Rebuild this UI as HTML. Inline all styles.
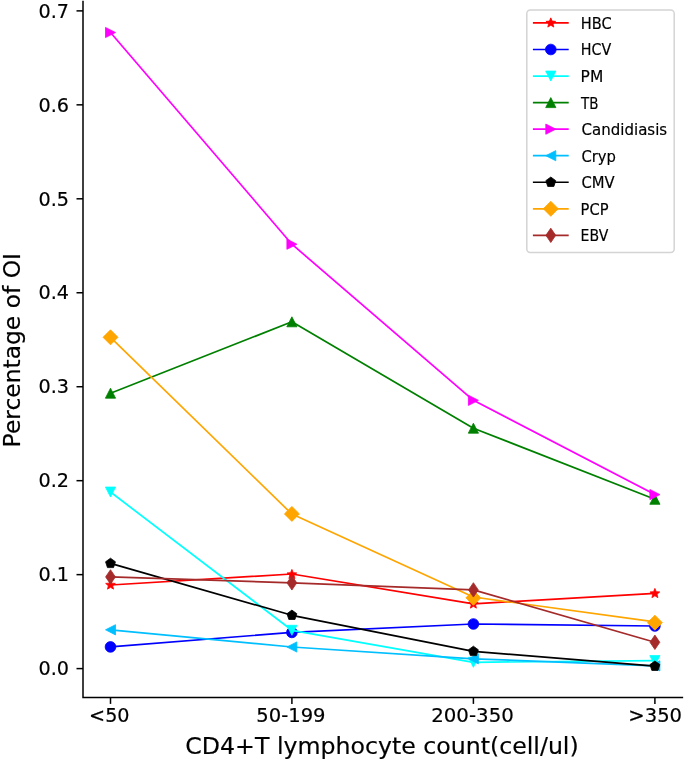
<!DOCTYPE html>
<html lang="en"><head><meta charset="utf-8"><title>Percentage of OI by CD4+T lymphocyte count</title>
<style>html,body{margin:0;padding:0;background:#fff}svg{display:block}</style></head>
<body>
<svg width="685" height="760" viewBox="0 0 685 760" font-family="'DejaVu Sans', 'Liberation Sans', sans-serif" fill="#000">
<rect width="685" height="760" fill="#fff"/>
<g><polyline points="110.5,585 291.9,574 473.4,603.8 654.9,593.3" fill="none" stroke="#ff0000" stroke-width="1.7" stroke-linejoin="round"/>
<polygon points="110.5,579.9 111.85,583.14 115.35,583.42 112.68,585.71 113.5,589.13 110.5,587.29 107.5,589.13 108.32,585.71 105.65,583.42 109.15,583.14" fill="#ff0000" stroke="#ff0000" stroke-width="0.8" stroke-linejoin="round"/>
<polygon points="291.9,569.4 293.25,572.64 296.75,572.92 294.08,575.21 294.9,578.63 291.9,576.79 288.9,578.63 289.72,575.21 287.05,572.92 290.55,572.64" fill="#ff0000" stroke="#ff0000" stroke-width="0.8" stroke-linejoin="round"/>
<polygon points="473.4,598.9 474.75,602.14 478.25,602.42 475.58,604.71 476.4,608.13 473.4,606.29 470.4,608.13 471.22,604.71 468.55,602.42 472.05,602.14" fill="#ff0000" stroke="#ff0000" stroke-width="0.8" stroke-linejoin="round"/>
<polygon points="654.9,588.4 656.25,591.64 659.75,591.92 657.08,594.21 657.9,597.63 654.9,595.79 651.9,597.63 652.72,594.21 650.05,591.92 653.55,591.64" fill="#ff0000" stroke="#ff0000" stroke-width="0.8" stroke-linejoin="round"/>
</g>
<g><polyline points="110.5,646.9 291.9,632.4 473.4,624 654.9,626" fill="none" stroke="#0000ff" stroke-width="1.7" stroke-linejoin="round"/>
<circle cx="110.5" cy="646.9" r="5.35" fill="#0000ff" stroke="#0000ff" stroke-width="0.8" stroke-linejoin="round"/>
<circle cx="291.9" cy="632.4" r="5.35" fill="#0000ff" stroke="#0000ff" stroke-width="0.8" stroke-linejoin="round"/>
<circle cx="473.4" cy="624" r="5.35" fill="#0000ff" stroke="#0000ff" stroke-width="0.8" stroke-linejoin="round"/>
<circle cx="654.9" cy="626" r="5.35" fill="#0000ff" stroke="#0000ff" stroke-width="0.8" stroke-linejoin="round"/>
</g>
<g><polyline points="110.5,492.05 291.9,630.3 473.4,662.3 654.9,660.6" fill="none" stroke="#00ffff" stroke-width="1.7" stroke-linejoin="round"/>
<polygon points="110.5,497.05 105.4,487.05 115.6,487.05" fill="#00ffff" stroke="#00ffff" stroke-width="0.8" stroke-linejoin="round"/>
<polygon points="291.9,635.3 286.8,625.3 297,625.3" fill="#00ffff" stroke="#00ffff" stroke-width="0.8" stroke-linejoin="round"/>
<polygon points="473.4,667.3 468.3,657.3 478.5,657.3" fill="#00ffff" stroke="#00ffff" stroke-width="0.8" stroke-linejoin="round"/>
<polygon points="654.9,665.6 649.8,655.6 660,655.6" fill="#00ffff" stroke="#00ffff" stroke-width="0.8" stroke-linejoin="round"/>
</g>
<g><polyline points="110.5,393.2 291.9,321.8 473.4,428.2 654.9,499.3" fill="none" stroke="#008000" stroke-width="1.7" stroke-linejoin="round"/>
<polygon points="110.5,388.2 105.4,398.2 115.6,398.2" fill="#008000" stroke="#008000" stroke-width="0.8" stroke-linejoin="round"/>
<polygon points="291.9,316.8 286.8,326.8 297,326.8" fill="#008000" stroke="#008000" stroke-width="0.8" stroke-linejoin="round"/>
<polygon points="473.4,423.2 468.3,433.2 478.5,433.2" fill="#008000" stroke="#008000" stroke-width="0.8" stroke-linejoin="round"/>
<polygon points="654.9,494.3 649.8,504.3 660,504.3" fill="#008000" stroke="#008000" stroke-width="0.8" stroke-linejoin="round"/>
</g>
<g><polyline points="110.5,32.5 291.9,244.2 473.4,400.3 654.9,494.6" fill="none" stroke="#ff00ff" stroke-width="1.7" stroke-linejoin="round"/>
<polygon points="115.5,32.5 105.5,27.4 105.5,37.6" fill="#ff00ff" stroke="#ff00ff" stroke-width="0.8" stroke-linejoin="round"/>
<polygon points="296.9,244.2 286.9,239.1 286.9,249.3" fill="#ff00ff" stroke="#ff00ff" stroke-width="0.8" stroke-linejoin="round"/>
<polygon points="478.4,400.3 468.4,395.2 468.4,405.4" fill="#ff00ff" stroke="#ff00ff" stroke-width="0.8" stroke-linejoin="round"/>
<polygon points="659.9,494.6 649.9,489.5 649.9,499.7" fill="#ff00ff" stroke="#ff00ff" stroke-width="0.8" stroke-linejoin="round"/>
</g>
<g><polyline points="110.5,629.8 291.9,647 473.4,658.8 654.9,665.8" fill="none" stroke="#00bfff" stroke-width="1.7" stroke-linejoin="round"/>
<polygon points="105.5,629.8 115.5,624.7 115.5,634.9" fill="#00bfff" stroke="#00bfff" stroke-width="0.8" stroke-linejoin="round"/>
<polygon points="286.9,647 296.9,641.9 296.9,652.1" fill="#00bfff" stroke="#00bfff" stroke-width="0.8" stroke-linejoin="round"/>
<polygon points="468.4,658.8 478.4,653.7 478.4,663.9" fill="#00bfff" stroke="#00bfff" stroke-width="0.8" stroke-linejoin="round"/>
<polygon points="649.9,665.8 659.9,660.7 659.9,670.9" fill="#00bfff" stroke="#00bfff" stroke-width="0.8" stroke-linejoin="round"/>
</g>
<g><polyline points="110.5,563.4 291.9,615.3 473.4,651.4 654.9,666.2" fill="none" stroke="#000000" stroke-width="1.7" stroke-linejoin="round"/>
<polygon points="110.5,558.2 115.45,561.79 113.56,567.61 107.44,567.61 105.55,561.79" fill="#000000" stroke="#000000" stroke-width="0.8" stroke-linejoin="round"/>
<polygon points="291.9,610.1 296.85,613.69 294.96,619.51 288.84,619.51 286.95,613.69" fill="#000000" stroke="#000000" stroke-width="0.8" stroke-linejoin="round"/>
<polygon points="473.4,646.2 478.35,649.79 476.46,655.61 470.34,655.61 468.45,649.79" fill="#000000" stroke="#000000" stroke-width="0.8" stroke-linejoin="round"/>
<polygon points="654.9,661 659.85,664.59 657.96,670.41 651.84,670.41 649.95,664.59" fill="#000000" stroke="#000000" stroke-width="0.8" stroke-linejoin="round"/>
</g>
<g><polyline points="110.5,337.3 291.9,514.1 473.4,597 654.9,621.9" fill="none" stroke="#ffa500" stroke-width="1.7" stroke-linejoin="round"/>
<polygon points="110.5,329.8 118,337.3 110.5,344.8 103,337.3" fill="#ffa500" stroke="#ffa500" stroke-width="0.8" stroke-linejoin="round"/>
<polygon points="291.9,506.4 299.4,513.9 291.9,521.4 284.4,513.9" fill="#ffa500" stroke="#ffa500" stroke-width="0.8" stroke-linejoin="round"/>
<polygon points="473.4,590.35 480.9,597.85 473.4,605.35 465.9,597.85" fill="#ffa500" stroke="#ffa500" stroke-width="0.8" stroke-linejoin="round"/>
<polygon points="654.9,615.2 662.4,622.7 654.9,630.2 647.4,622.7" fill="#ffa500" stroke="#ffa500" stroke-width="0.8" stroke-linejoin="round"/>
</g>
<g><polyline points="110.5,576.9 291.9,582.85 473.4,589.9 654.9,642.3" fill="none" stroke="#a52a2a" stroke-width="1.7" stroke-linejoin="round"/>
<polygon points="110.5,569.7 115.4,576.9 110.5,584.1 105.6,576.9" fill="#a52a2a" stroke="#a52a2a" stroke-width="0.8" stroke-linejoin="round"/>
<polygon points="291.9,575.65 296.8,582.85 291.9,590.05 287,582.85" fill="#a52a2a" stroke="#a52a2a" stroke-width="0.8" stroke-linejoin="round"/>
<polygon points="473.4,582.7 478.3,589.9 473.4,597.1 468.5,589.9" fill="#a52a2a" stroke="#a52a2a" stroke-width="0.8" stroke-linejoin="round"/>
<polygon points="654.9,635.1 659.8,642.3 654.9,649.5 650,642.3" fill="#a52a2a" stroke="#a52a2a" stroke-width="0.8" stroke-linejoin="round"/>
</g>
<g stroke="#000" stroke-width="1.5" fill="none">
<path d="M83 1.6 V697.4 H682.4" stroke-linecap="square"/>
<path d="M83 668.6H76.5"/>
<path d="M83 574.64H76.5"/>
<path d="M83 480.68H76.5"/>
<path d="M83 386.72H76.5"/>
<path d="M83 292.76H76.5"/>
<path d="M83 198.8H76.5"/>
<path d="M83 104.84H76.5"/>
<path d="M83 10.88H76.5"/>
<path d="M110.5 697.4V703.9"/>
<path d="M291.9 697.4V703.9"/>
<path d="M473.4 697.4V703.9"/>
<path d="M654.9 697.4V703.9"/>
</g>
<g stroke="#000" stroke-width="0.18" stroke-linejoin="round">
<g font-size="19.2">
<text x="69" y="675.3" text-anchor="end">0.0</text>
<text x="69" y="581.34" text-anchor="end">0.1</text>
<text x="69" y="487.38" text-anchor="end">0.2</text>
<text x="69" y="393.42" text-anchor="end">0.3</text>
<text x="69" y="299.46" text-anchor="end">0.4</text>
<text x="69" y="205.5" text-anchor="end">0.5</text>
<text x="69" y="111.54" text-anchor="end">0.6</text>
<text x="69" y="17.58" text-anchor="end">0.7</text>
<text transform="translate(109.3 721.8) scale(1.0 1)" text-anchor="middle">&lt;50</text>
<text transform="translate(290.9 721.8) scale(1.02 1)" text-anchor="middle">50-199</text>
<text transform="translate(472.5 721.8) scale(1.03 1)" text-anchor="middle">200-350</text>
<text transform="translate(655.2 721.8) scale(1.02 1)" text-anchor="middle">&gt;350</text>
</g>
<text transform="translate(382 753.5) scale(1.038 1)" font-size="22.8" text-anchor="middle">CD4+T lymphocyte count(cell/ul)</text>
<text transform="translate(20.2 350.2) rotate(-90) scale(1.027 1)" font-size="22.8" text-anchor="middle">Percentage of OI</text>
<rect x="526.8" y="10" width="147.4" height="242.4" rx="3.5" ry="3.5" fill="#fff" stroke="#d4d4d4" stroke-width="1.5"/>
<g font-size="15.6">
<path d="M532.9 22.95H568.7" stroke="#ff0000" stroke-width="1.7" fill="none"/>
<polygon points="550.8,17.85 552.15,21.09 555.65,21.37 552.98,23.66 553.8,27.08 550.8,25.24 547.8,27.08 548.62,23.66 545.95,21.37 549.45,21.09" fill="#ff0000" stroke="#ff0000" stroke-width="0.8" stroke-linejoin="round"/>
<text transform="translate(580.8 28.85) scale(0.935 1)">HBC</text>
<path d="M532.9 49.5H568.7" stroke="#0000ff" stroke-width="1.7" fill="none"/>
<circle cx="550.8" cy="49.5" r="5.35" fill="#0000ff" stroke="#0000ff" stroke-width="0.8" stroke-linejoin="round"/>
<text transform="translate(580.8 55.4) scale(0.915 1)">HCV</text>
<path d="M532.9 76.05H568.7" stroke="#00ffff" stroke-width="1.7" fill="none"/>
<polygon points="550.8,81.05 545.7,71.05 555.9,71.05" fill="#00ffff" stroke="#00ffff" stroke-width="0.8" stroke-linejoin="round"/>
<text transform="translate(580.6 81.95) scale(0.99 1)">PM</text>
<path d="M532.9 102.6H568.7" stroke="#008000" stroke-width="1.7" fill="none"/>
<polygon points="550.8,97.6 545.7,107.6 555.9,107.6" fill="#008000" stroke="#008000" stroke-width="0.8" stroke-linejoin="round"/>
<text transform="translate(581 108.5) scale(0.86 1)">TB</text>
<path d="M532.9 129.15H568.7" stroke="#ff00ff" stroke-width="1.7" fill="none"/>
<polygon points="555.8,129.15 545.8,124.05 545.8,134.25" fill="#ff00ff" stroke="#ff00ff" stroke-width="0.8" stroke-linejoin="round"/>
<text transform="translate(581.6 135.05) scale(0.962 1)">Candidiasis</text>
<path d="M532.9 155.7H568.7" stroke="#00bfff" stroke-width="1.7" fill="none"/>
<polygon points="545.8,155.7 555.8,150.6 555.8,160.8" fill="#00bfff" stroke="#00bfff" stroke-width="0.8" stroke-linejoin="round"/>
<text transform="translate(581.4 161.6) scale(0.949 1)">Cryp</text>
<path d="M532.9 182.25H568.7" stroke="#000000" stroke-width="1.7" fill="none"/>
<polygon points="550.8,177.05 555.75,180.64 553.86,186.46 547.74,186.46 545.85,180.64" fill="#000000" stroke="#000000" stroke-width="0.8" stroke-linejoin="round"/>
<text transform="translate(581.4 188.15) scale(0.949 1)">CMV</text>
<path d="M532.9 208.8H568.7" stroke="#ffa500" stroke-width="1.7" fill="none"/>
<polygon points="550.8,201.3 558.3,208.8 550.8,216.3 543.3,208.8" fill="#ffa500" stroke="#ffa500" stroke-width="0.8" stroke-linejoin="round"/>
<text transform="translate(580.6 214.7) scale(0.94 1)">PCP</text>
<path d="M532.9 235.35H568.7" stroke="#a52a2a" stroke-width="1.7" fill="none"/>
<polygon points="550.8,228.15 555.7,235.35 550.8,242.55 545.9,235.35" fill="#a52a2a" stroke="#a52a2a" stroke-width="0.8" stroke-linejoin="round"/>
<text transform="translate(580.6 241.25) scale(0.9 1)">EBV</text>
</g>
</g>
</svg>
</body></html>
